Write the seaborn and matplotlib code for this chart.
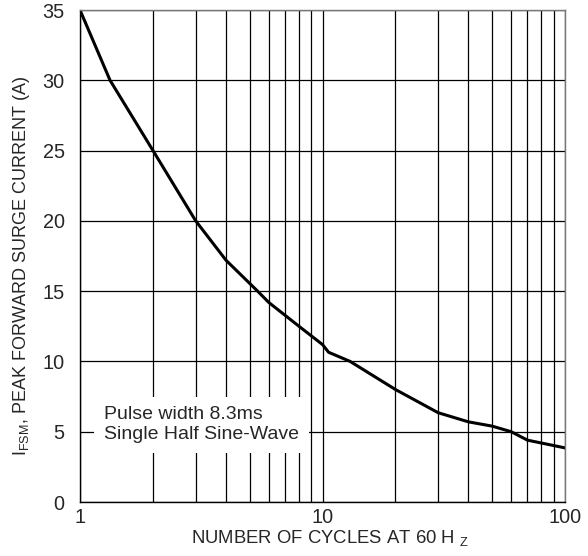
import numpy as np
import pandas as pd
import seaborn as sns
import matplotlib.pyplot as plt
from matplotlib.ticker import LogLocator, NullFormatter, FixedLocator

# Surge current curve
cycles = [1, 1.33, 2, 3, 4, 5.4, 6, 8, 10, 10.6, 13, 20, 30, 40, 50, 60, 70, 100]
current = [35, 30, 25, 20, 17.2, 15, 14.2, 12.5, 11.2, 10.65, 10, 8, 6.35, 5.7, 5.4, 5.0, 4.4, 3.85]
y_ticks = [0, 5, 10, 15, 20, 25, 30, 35]
x_ticks = [1, 10, 100]
x_ticklabels = ["1", "10", "100"]

df = pd.DataFrame({"cycles": cycles, "current": current})

sns.set_style("white")
plt.rcParams["font.family"] = ["Liberation Sans", "DejaVu Sans"]
plt.rcParams["mathtext.default"] = "regular"

fig = plt.figure(figsize=(5.88, 5.56), dpi=100)
ax = fig.add_axes([80 / 588, 1 - 502 / 556, 485 / 588, 492 / 556])

sns.lineplot(data=df, x="cycles", y="current", color="black", linewidth=2.2, ax=ax)

ax.set_xscale("log")
ax.set_xlim(1, 100)
ax.set_ylim(0, 35)
ax.xaxis.set_major_locator(FixedLocator(x_ticks))
ax.set_xticklabels(x_ticklabels)
ax.xaxis.set_minor_locator(LogLocator(base=10, subs=np.arange(2, 10)))
ax.xaxis.set_minor_formatter(NullFormatter())
ax.set_yticks(y_ticks)

ax.grid(True, which="both", axis="x", color="black", linewidth=0.9)
ax.grid(True, which="major", axis="y", color="black", linewidth=0.9)
ax.tick_params(which="both", length=0, labelsize=14.3)
ax.tick_params(axis="y", pad=11)
ax.tick_params(axis="x", pad=4)

for side in ["left", "bottom"]:
    ax.spines[side].set_color("black")
    ax.spines[side].set_linewidth(1.0)
for side in ["top", "right"]:
    ax.spines[side].set_color("#777777")
    ax.spines[side].set_linewidth(1.0)

ax.set_xlabel("NUMBER OF CYCLES AT 60 H $_{Z}$", fontsize=13.3)
ax.xaxis.set_label_coords(0.515, -0.053)
ax.set_ylabel("I$_{FSM}$, PEAK FORWARD SURGE CURRENT (A)", fontsize=13)
ax.yaxis.set_label_coords(-0.1, 0.48)

ax.text(1.256, 5.5, "Pulse width 8.3ms\nSingle Half Sine-Wave", fontsize=14,
        va="center", ha="left", linespacing=1.2,
        bbox=dict(boxstyle="square,pad=0.5", facecolor="white", edgecolor="none"))

fig.savefig("out.png", dpi=100)
